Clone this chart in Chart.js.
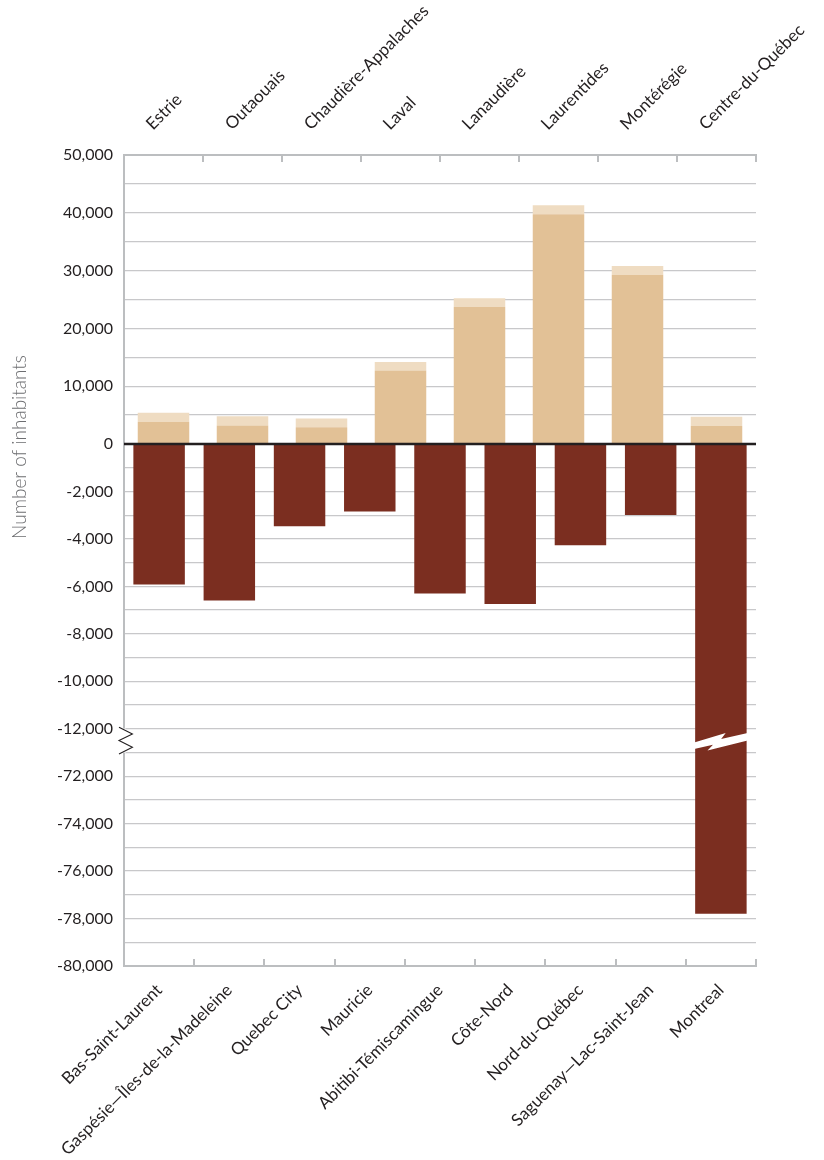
<!DOCTYPE html>
<html><head><meta charset="utf-8">
<script src="https://cdn.jsdelivr.net/npm/chart.js@4.4.1/dist/chart.umd.min.js"></script>
<style>html,body{margin:0;padding:0;background:#fff}canvas{display:block}</style>
</head><body>
<canvas id="c" width="824" height="1160"></canvas>
<script>
const topRegions = ['Estrie','Outaouais','Chaudière-Appalaches','Laval','Lanaudière','Laurentides','Montérégie','Centre-du-Québec'];
const bottomRegions = ['Bas-Saint-Laurent','Gaspésie—Îles-de-la-Madeleine','Quebec City','Mauricie','Abitibi-Témiscamingue','Côte-Nord','Nord-du-Québec','Saguenay—Lac-Saint-Jean','Montreal'];
const gainMain = [3850, 3200, 2900, 12700, 23700, 39750, 29300, 3100];
const gainExtra = [1550, 1600, 1500, 1500, 1500, 1550, 1500, 1600];
const losses = [-5920, -6600, -3470, -2840, -6300, -6740, -4270, -2990, -77800];
const majorTicks = [50000,40000,30000,20000,10000,0,-2000,-4000,-6000,-8000,-10000,-12000,-72000,-74000,-76000,-78000,-80000];
const minorTicks = [45000,35000,25000,15000,5000,-1000,-3000,-5000,-7000,-9000,-11000,-73000,-75000,-77000,-79000];
const yTitle = 'Number of inhabitants';

// broken axis: positive side compressed, gap between -12,000 and -72,000
const POS_RATIO = 0.2436;
const BREAK_HIGH = -12000, BREAK_LOW = -72000, BREAK_SPAN = 2000;
function toAxis(v){
  if (v >= 0) return v * POS_RATIO / 1000;
  if (v >= BREAK_HIGH) return v / 1000;
  return (v - BREAK_LOW - BREAK_SPAN + BREAK_HIGH) / 1000;
}
const breakLine = (BREAK_HIGH - BREAK_SPAN / 2) / 1000;
const breakMid = (BREAK_HIGH - BREAK_SPAN / 4) / 1000;

const yTicks = []
  .concat(majorTicks.map(v => ({value: toAxis(v), label: v.toLocaleString('en-US')})))
  .concat(minorTicks.map(v => ({value: toAxis(v), label: ''})))
  .concat([{value: breakLine, label: ''}])
  .sort((a, b) => a.value - b.value);

const INK = '#231f20';
const AXIS = '#bcbec0';

const decor = {
  id: 'decor',
  afterDatasetsDraw(chart){
    const {ctx, chartArea: a, scales: {y}} = chart;
    ctx.save();
    const y0 = y.getPixelForValue(0);
    ctx.strokeStyle = INK; ctx.lineWidth = 2.5;
    ctx.beginPath(); ctx.moveTo(a.left, y0); ctx.lineTo(a.right, y0); ctx.stroke();
    const bar = chart.getDatasetMeta(2).data[8];
    const L = bar.x - bar.width / 2 - 1, W = bar.width + 2;
    const yc = y.getPixelForValue(breakMid);
    const pts = [[0,1.9],[0.59,-7.5],[0.505,-1.5],[1,-7.5],[1,-0.1],[0.25,9.9],[0.352,4.2],[0,8.5]];
    ctx.fillStyle = '#ffffff';
    ctx.beginPath();
    pts.forEach((p, i) => { const px = L + p[0] * W, py = yc + p[1]; i ? ctx.lineTo(px, py) : ctx.moveTo(px, py); });
    ctx.closePath(); ctx.fill();
    const ax = a.left;
    ctx.fillRect(ax - 2, yc - 12, 4, 24);
    ctx.strokeStyle = INK; ctx.lineWidth = 1.1;
    ctx.beginPath();
    ctx.moveTo(ax - 5, yc - 13.3);
    ctx.lineTo(ax + 8.4, yc - 6.7);
    ctx.lineTo(ax - 5, yc);
    ctx.lineTo(ax + 8.4, yc + 6.7);
    ctx.lineTo(ax - 5, yc + 13.3);
    ctx.stroke();
    ctx.restore();
  },
  afterDraw(chart){
    const {ctx} = chart;
    ctx.save();
    ctx.translate(20, 447);
    ctx.rotate(-Math.PI / 2);
    ctx.fillStyle = '#6d6e71';
    ctx.font = '300 19px Lato';
    ctx.textAlign = 'center';
    ctx.textBaseline = 'middle';
    ctx.fillText(yTitle, 0, 0);
    ctx.restore();
  }
};

Chart.defaults.font.family = 'Lato';
Chart.defaults.color = INK;

const fitX = h => s => { s.height = h; s.paddingLeft = 0; s.paddingRight = 0; };

new Chart(document.getElementById('c'), {
  type: 'bar',
  data: {
    datasets: [
      {label: 'Gain', data: gainMain.map(toAxis), xAxisID: 'xTop', yAxisID: 'y', stack: 'gain', grouped: false,
       backgroundColor: '#e2c196', categoryPercentage: 1, barPercentage: 0.652},
      {label: 'Gain (additional)', data: gainExtra.map(toAxis), xAxisID: 'xTop', yAxisID: 'y', stack: 'gain', grouped: false,
       backgroundColor: '#efdcc2', categoryPercentage: 1, barPercentage: 0.652},
      {label: 'Loss', data: losses.map(toAxis), xAxisID: 'xBottom', yAxisID: 'y', stack: 'loss', grouped: false,
       backgroundColor: '#7b2e20', categoryPercentage: 1, barPercentage: 0.733}
    ]
  },
  options: {
    responsive: false,
    animation: false,
    layout: {padding: {left: 0, right: 68, top: 0, bottom: 0}},
    plugins: {legend: {display: false}, tooltip: {enabled: false}},
    scales: {
      xTop: {
        type: 'category', position: 'top', labels: topRegions, offset: true,
        grid: {drawOnChartArea: false, drawTicks: true, tickLength: -7, color: AXIS, lineWidth: 2, offset: true},
        border: {color: AXIS, width: 2},
        ticks: {minRotation: 45, maxRotation: 45, autoSkip: false, padding: 28, color: INK, font: {size: 17}},
        afterFit: fitX(155)
      },
      xBottom: {
        type: 'category', position: 'bottom', labels: bottomRegions, offset: true,
        grid: {drawOnChartArea: false, drawTicks: true, tickLength: -7, color: AXIS, lineWidth: 2, offset: true},
        border: {color: AXIS, width: 2},
        ticks: {minRotation: 45, maxRotation: 45, autoSkip: false, padding: 21, color: INK, font: {size: 17}},
        afterFit: fitX(194)
      },
      y: {
        type: 'linear', position: 'left',
        min: toAxis(-80000), max: toAxis(50000),
        afterBuildTicks: s => { s.ticks = yTicks.map(t => ({value: t.value})); },
        ticks: {callback: (v, i) => yTicks[i] ? yTicks[i].label : '', autoSkip: false, padding: 11, color: INK, font: {size: 16}},
        grid: {drawTicks: false, color: '#c8c8ca', lineWidth: 1.3},
        border: {color: AXIS, width: 2},
        afterFit: s => { s.width = 124; }
      }
    }
  },
  plugins: [decor]
});
</script>
</body></html>
